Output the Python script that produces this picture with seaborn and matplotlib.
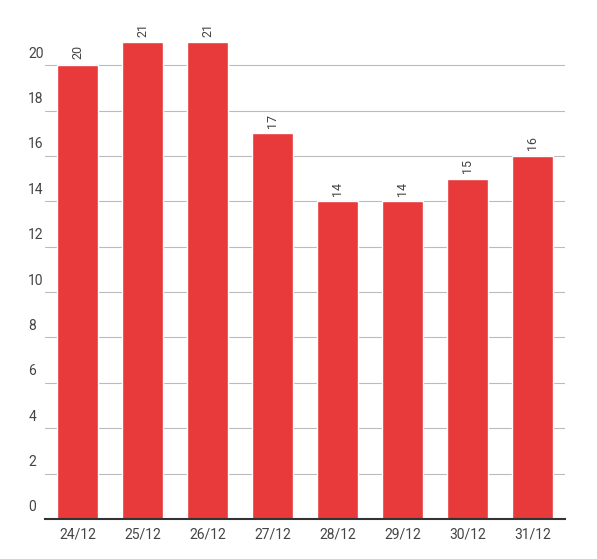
import seaborn as sns
import matplotlib.pyplot as plt
import matplotlib.transforms as mtransforms

dates = ['24/12', '25/12', '26/12', '27/12', '28/12', '29/12', '30/12', '31/12']
values = [20, 21, 21, 17, 14, 14, 15, 16]
yticks = [0, 2, 4, 6, 8, 10, 12, 14, 16, 18, 20]

sns.set_style('white')
plt.rcParams['font.family'] = ['Roboto', 'DejaVu Sans']

fig = plt.figure(figsize=(5.97, 5.59), dpi=100)
ax = fig.add_axes([0.0754, 0.0716, 0.871, 0.893])

sns.barplot(x=dates, y=values, color='#E8393B', saturation=1, width=0.62, ax=ax, zorder=3)
ax.set_xlim(-0.5, 7.5)
ax.set_ylim(0, 22)

for i, v in enumerate(values):
    ax.text(i, v + 0.25, str(v), rotation=90, ha='center', va='bottom', fontsize=9, color='#444444')

trans = mtransforms.blended_transform_factory(ax.transAxes, ax.transData)
for t in yticks:
    ax.axhline(t, color='#bbbbbb', lw=0.8, zorder=1)
    ax.text(-0.032, t + 0.2, str(t), transform=trans, ha='left', va='bottom', fontsize=10, color='#444444')

ax.set_yticks([])
ax.tick_params(axis='x', length=0, labelsize=10, labelcolor='#444444', pad=6)
for s in ['top', 'right', 'left']:
    ax.spines[s].set_visible(False)
ax.spines['bottom'].set_color('#333333')
ax.spines['bottom'].set_linewidth(1.5)
ax.spines['bottom'].set_zorder(4)

fig.savefig('out.png', dpi=100)
